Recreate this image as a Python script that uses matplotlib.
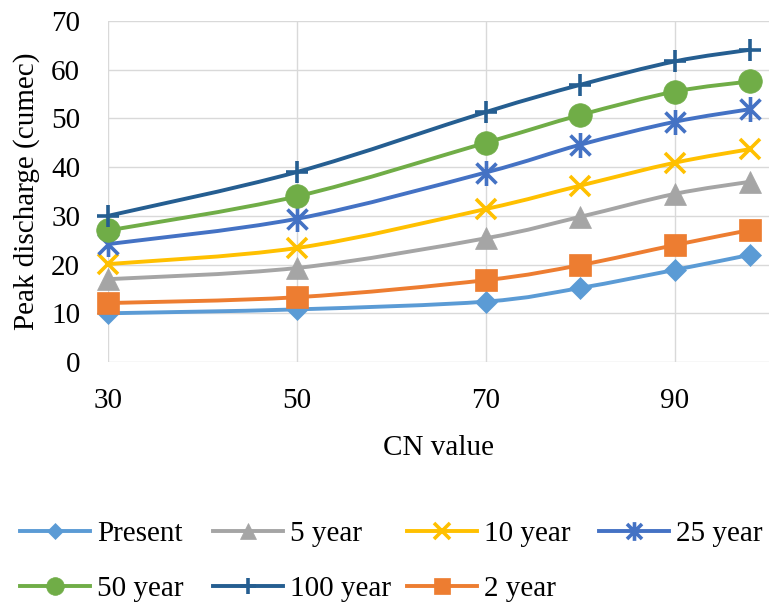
import matplotlib
matplotlib.use("Agg")
import matplotlib.pyplot as plt
from matplotlib.path import Path
from matplotlib.patches import PathPatch
from matplotlib.lines import Line2D
import numpy as np

# ---------------- data ----------------
cn_values = [30, 50, 70, 80, 90, 98]
present = [10.0, 10.8, 12.4, 15.2, 18.9, 22.0]
year5 = [17.0, 19.3, 25.4, 29.8, 34.5, 37.0]
year10 = [20.1, 23.4, 31.4, 36.2, 40.9, 43.7]
year25 = [24.2, 29.4, 38.9, 44.6, 49.3, 51.9]
year50 = [27.0, 34.0, 45.0, 50.7, 55.5, 57.6]
year100 = [30.0, 39.0, 51.3, 56.9, 61.7, 64.1]
year2 = [12.1, 13.3, 16.8, 19.9, 24.0, 27.1]

series_names = ["Present", "5 year", "10 year", "25 year", "50 year", "100 year", "2 year"]
x_ticks = [30, 50, 70, 90]
y_ticks = [0, 10, 20, 30, 40, 50, 60, 70]

# ---------------- style ----------------
FONT = "Liberation Serif"
FS = 21
plt.rcParams["font.family"] = [FONT, "DejaVu Serif"]

# asterisk marker (x plus vertical bar)
ast = Path([(-1, -1), (1, 1), (-1, 1), (1, -1), (0, -1.25), (0, 1.25)],
           [Path.MOVETO, Path.LINETO, Path.MOVETO, Path.LINETO, Path.MOVETO, Path.LINETO])

styles = [
    dict(color="#5B9BD5", marker="D", ms=11.5, filled=True),
    dict(color="#A5A5A5", marker="^", ms=16, filled=True),
    dict(color="#FFC000", marker="x", ms=15, filled=False),
    dict(color="#4472C4", marker=ast, ms=18, filled=False),
    dict(color="#70AD47", marker="o", ms=17, filled=True),
    dict(color="#255E91", marker="+", ms=15.5, filled=False),
    dict(color="#ED7D31", marker="s", ms=16, filled=True),
]
data = [present, year5, year10, year25, year50, year100, year2]

W, H = 769, 606
fig = plt.figure(figsize=(W / 100, H / 100), dpi=100)
ax = fig.add_axes([108 / W, 1 - 362 / H, (W - 108) / W, 341 / H])
ax.set_xlim(30, 100)
ax.set_ylim(0, 70)
ax.set_xticks(x_ticks)
ax.set_yticks(y_ticks)
for s in ax.spines.values():
    s.set_visible(False)
ax.grid(True, color="#d9d9d9", linewidth=1.0)
ax.set_axisbelow(True)
ax.tick_params(length=0, labelsize=FS, colors="#000000")
ax.tick_params(axis="y", pad=20)
ax.tick_params(axis="x", pad=19)


def smooth_path(xs, ys):
    pts = np.column_stack([xs, ys]).astype(float)
    n = len(pts)
    verts = [pts[0]]
    codes = [Path.MOVETO]
    for i in range(n - 1):
        p0 = pts[i - 1] if i > 0 else pts[i]
        p1 = pts[i]
        p2 = pts[i + 1]
        p3 = pts[i + 2] if i + 2 < n else pts[i + 1]
        c1 = p1 + (p2 - p0) / 6.0
        c2 = p2 - (p3 - p1) / 6.0
        verts += [c1, c2, p2]
        codes += [Path.CURVE4] * 3
    return Path(verts, codes)


LW = 2.8
handles = []
for k, (name, ys, st) in enumerate(zip(series_names, data, styles)):
    z = 3 + k
    patch = PathPatch(smooth_path(cn_values, ys), facecolor="none",
                      edgecolor=st["color"], linewidth=LW, zorder=z,
                      capstyle="round", joinstyle="round")
    ax.add_patch(patch)
    if st["filled"]:
        kw = dict(markerfacecolor=st["color"], markeredgecolor=st["color"], markeredgewidth=0.5)
    else:
        kw = dict(markerfacecolor="none", markeredgecolor=st["color"], markeredgewidth=2.6)
    ax.plot(cn_values, ys, linestyle="none", marker=st["marker"], markersize=st["ms"],
            zorder=z + 0.5, clip_on=False, **kw)
    h = Line2D([], [], color=st["color"], linewidth=LW, marker=st["marker"],
               markersize=st["ms"] * 0.75, **kw)
    handles.append(h)

ax.set_ylabel("Peak discharge (cumec)", fontsize=FS)
ax.yaxis.set_label_coords((27 - 108) / 661, 0.5)
ax.yaxis.label.set_verticalalignment("center")
ax.yaxis.label.set_rotation_mode("default")

ax.set_xlabel("CN value", fontsize=FS)
ax.xaxis.set_label_coords(0.5, (362 - 455) / 341)
ax.xaxis.label.set_verticalalignment("baseline")

# legend entries placed on a grid like the original
col_x = [20, 213, 407, 599]
row_y = [534, 589]
order = [(0, 0), (0, 1), (0, 2), (0, 3), (1, 0), (1, 1), (1, 2)]
fs_px = FS * 100 / 72
for h, name, (r, c) in zip(handles, series_names, order):
    fig.legend(handles=[h], labels=[name], loc="center left",
               bbox_to_anchor=(col_x[c] / W, 1 - row_y[r] / H),
               frameon=False, borderpad=0, borderaxespad=0,
               handlelength=70 / fs_px, handletextpad=7 / fs_px,
               prop={"family": FONT, "size": FS}, numpoints=1)

fig.savefig("out.png", dpi=100)
